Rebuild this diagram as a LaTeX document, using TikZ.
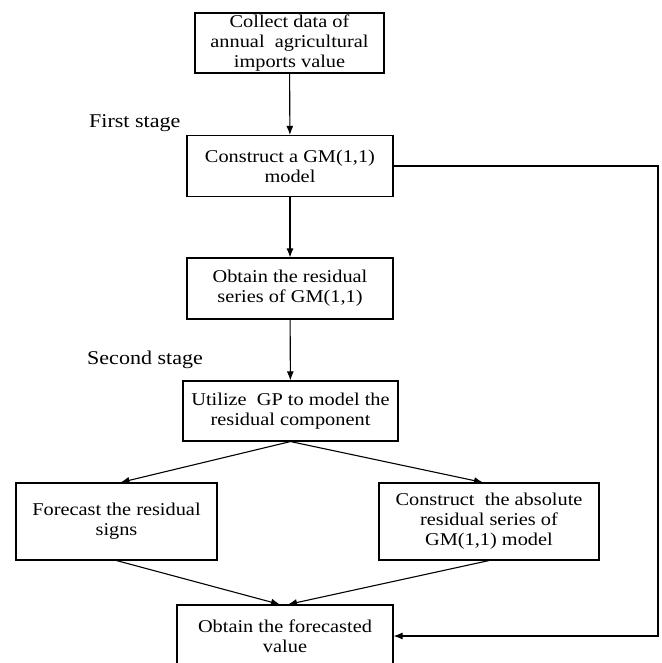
\documentclass[tikz,border=0pt]{standalone}
\usepackage{fontspec}
\setmainfont{Liberation Serif}[FakeStretch=1.13]
\usepackage{tikz}
\usetikzlibrary{arrows.meta, positioning}

\begin{document}
\begin{tikzpicture}[x=1pt, y=-1pt,
    box/.style={draw, line width=1.1pt, align=center, inner sep=0pt,
        font=\fontsize{18}{20}\selectfont},
    stage/.style={anchor=base west, inner sep=0pt,
        font=\fontsize{19.5}{22}\selectfont},
    flow/.style={line width=1.1pt, -{Latex[length=9pt, width=7pt]}}]

    \useasboundingbox (0,0) rectangle (661,663);

    % first stage
    \node[box, minimum width=189pt, minimum height=60pt] (collect) at (289.5,43) {Collect data of\\annual\ \ agricultural\\imports value};
    \node[box, minimum width=206pt, minimum height=61pt] (construct) at (290,166) {Construct a GM(1,1)\\model};
    \node[box, minimum width=206pt, minimum height=61pt] (series) at (290,288.5) {Obtain the residual\\series of GM(1,1)};

    % second stage
    \node[box, minimum width=215pt, minimum height=60pt] (utilize) at (290.5,411) {Utilize\ \ GP to model the\\residual component};
    \node[box, minimum width=201pt, minimum height=77pt] (signs) at (116.5,521.5) {Forecast the residual\\signs};
    \node[box, minimum width=220pt, minimum height=77pt] (absolute) at (489,521.5) {Construct\ \ the absolute\\residual series of\\GM(1,1) model};
    \node[box, minimum width=216pt, minimum height=62pt] (forecast) at (285,636) {Obtain the forecasted\\value};

    \node[stage] (first) at (89,128) {First stage};
    \node[stage] (second) at (87,364) {Second stage};

    \coordinate (rt) at (658,0);

    \draw[flow] (collect) -- (construct);
    \draw[flow] (construct) -- (series);
    \draw[flow] (series) -- (utilize);
    \draw[flow] (utilize.south) -- ([xshift=4pt]signs.north);
    \draw[flow] (utilize.south) -- ([xshift=-6pt]absolute.north);
    \draw[flow] (signs.south) -- ([xshift=-5pt]forecast.north);
    \draw[flow] (absolute.south) -- ([xshift=3pt]forecast.north);
    \draw[flow] (construct.east) -- (construct.east -| rt) |- (forecast.east);
\end{tikzpicture}
\end{document}
